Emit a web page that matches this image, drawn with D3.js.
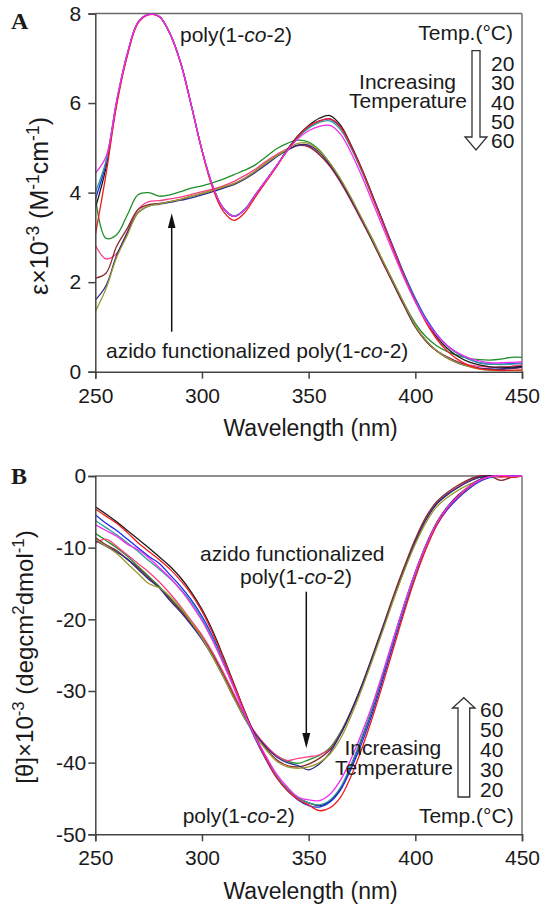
<!DOCTYPE html>
<html><head><meta charset="utf-8">
<script src="https://cdn.jsdelivr.net/npm/d3@7"></script>
<style>
body{margin:0;background:#fff}
svg{display:block}
text{fill:#1a1a1a}
</style>
</head><body>
<svg id="chart" width="546" height="905" font-family='"Liberation Sans",Arial,sans-serif'></svg>
<script>
// ---------- DATA ----------
const wavelengths = [250,255,260,265,270,275,280,285,290,295,300,305,310,315,320,325,330,335,340,345,350,355,360,365,370,375,380,385,390,395,400,405,410,415,420,425,430,435,440,445,450];
const xTicks = [250,300,350,400,450];
const yTicksA = [0,2,4,6,8];
const yTicksB = [-50,-40,-30,-20,-10,0];
const tempLabels = ["20","30","40","50","60"];

// Panel A: UV-vis, epsilon x 10^-3
const uvPolyBlack   = [3.65,4.55,6.0,7.08,7.8,7.98,7.93,7.55,6.9,5.95,4.95,4.15,3.65,3.47,3.62,3.95,4.27,4.6,4.96,5.27,5.5,5.66,5.72,5.5,5.05,4.52,3.93,3.32,2.72,2.13,1.6,1.14,0.78,0.52,0.34,0.22,0.15,0.11,0.1,0.1,0.12];
const uvPolyBlue    = [3.85,4.65,6.02,7.1,7.8,7.98,7.93,7.55,6.9,5.95,4.95,4.15,3.65,3.47,3.62,3.95,4.27,4.6,4.95,5.25,5.47,5.6,5.64,5.45,5.02,4.5,3.92,3.33,2.74,2.16,1.64,1.19,0.84,0.58,0.4,0.28,0.2,0.17,0.17,0.18,0.19];
const uvPolyTeal    = [4.0,4.7,6.05,7.1,7.8,7.98,7.93,7.55,6.9,5.95,4.95,4.15,3.65,3.48,3.63,3.95,4.27,4.6,4.94,5.23,5.44,5.57,5.6,5.4,4.98,4.46,3.88,3.29,2.7,2.12,1.6,1.16,0.82,0.57,0.4,0.28,0.2,0.17,0.16,0.17,0.18];
const uvPolyMagenta = [4.43,4.8,6.05,7.1,7.8,7.98,7.93,7.55,6.9,5.95,4.95,4.15,3.65,3.47,3.62,3.95,4.27,4.6,4.93,5.2,5.38,5.48,5.5,5.3,4.88,4.36,3.78,3.2,2.62,2.06,1.56,1.14,0.82,0.58,0.42,0.31,0.24,0.2,0.2,0.21,0.22];
const uvPolyRed     = [3.05,4.4,5.95,7.05,7.78,7.97,7.93,7.55,6.9,5.95,4.93,4.1,3.58,3.38,3.55,3.9,4.24,4.58,4.94,5.25,5.48,5.6,5.65,5.46,5.02,4.5,3.9,3.3,2.7,2.1,1.57,1.1,0.73,0.46,0.27,0.14,0.07,0.04,0.03,0.03,0.04];
const uvAzidoGreen  = [3.91,2.98,3.06,3.5,3.95,4.0,3.92,3.95,4.02,4.1,4.15,4.22,4.3,4.4,4.5,4.62,4.8,4.98,5.1,5.17,5.13,4.95,4.65,4.28,3.85,3.4,2.95,2.45,1.98,1.5,1.08,0.78,0.58,0.45,0.36,0.3,0.27,0.26,0.28,0.32,0.32];
const uvAzidoPink   = [2.83,2.52,2.64,3.12,3.62,3.8,3.82,3.86,3.9,3.96,4.02,4.08,4.15,4.25,4.38,4.52,4.7,4.85,4.98,5.06,5.04,4.85,4.58,4.22,3.8,3.35,2.9,2.4,1.93,1.45,1.0,0.68,0.47,0.33,0.22,0.15,0.12,0.1,0.1,0.12,0.15];
const uvAzidoBrown  = [2.09,2.2,2.8,3.2,3.62,3.73,3.76,3.8,3.85,3.92,3.98,4.05,4.12,4.2,4.32,4.48,4.66,4.82,4.95,5.05,5.02,4.85,4.6,4.24,3.82,3.37,2.9,2.42,1.93,1.45,1.0,0.68,0.46,0.3,0.19,0.12,0.07,0.05,0.05,0.07,0.1];
const uvAzidoNavy   = [1.6,1.92,2.6,3.1,3.55,3.7,3.74,3.78,3.83,3.88,3.95,4.02,4.1,4.18,4.3,4.45,4.62,4.8,4.95,5.06,5.06,4.9,4.62,4.26,3.84,3.39,2.92,2.44,1.96,1.48,1.02,0.7,0.47,0.32,0.21,0.13,0.08,0.06,0.06,0.08,0.1];
const uvAzidoOlive  = [1.34,1.85,2.55,3.05,3.55,3.7,3.75,3.8,3.85,3.92,3.98,4.05,4.13,4.2,4.32,4.48,4.66,4.82,4.97,5.1,5.1,4.93,4.66,4.3,3.88,3.42,2.95,2.46,1.98,1.5,1.03,0.7,0.47,0.31,0.2,0.12,0.06,0.03,0.02,0.03,0.02];

// Panel B: CD, [theta] x 10^-3
const cdPolyBlack   = [-4.3,-5.3,-6.4,-7.6,-8.8,-10.0,-11.3,-12.6,-14.2,-16.2,-18.6,-21.6,-25.2,-29.0,-32.8,-36.3,-39.3,-41.9,-43.7,-44.9,-45.6,-46.0,-45.4,-43.6,-40.4,-36.6,-32.4,-27.6,-22.6,-17.8,-13.4,-9.6,-6.5,-4.3,-2.7,-1.5,-0.5,0,0,0,0];
const cdPolyRed     = [-4.6,-5.6,-6.6,-7.9,-9.3,-10.5,-11.7,-13.0,-14.6,-16.5,-18.9,-21.9,-25.4,-29.1,-32.9,-36.5,-39.5,-42.1,-43.9,-45.1,-45.9,-46.7,-46.3,-44.8,-41.8,-38.0,-33.6,-28.8,-23.8,-18.8,-14.2,-10.2,-6.9,-4.5,-2.9,-1.6,-0.6,-0.1,0,-0.2,0];
const cdPolyBlue    = [-5.4,-6.6,-7.6,-8.8,-10.0,-11.2,-12.2,-13.8,-15.4,-17.3,-19.6,-22.4,-25.8,-29.4,-33.2,-36.7,-39.6,-42.1,-43.9,-45.2,-46.0,-46.2,-45.5,-43.8,-40.8,-37.2,-33.0,-28.2,-23.2,-18.4,-14.0,-10.0,-6.9,-4.7,-3.1,-1.8,-0.8,-0.2,0,0,0];
const cdPolyTeal    = [-6.2,-7.2,-8.2,-9.3,-10.5,-11.8,-13.0,-14.3,-15.8,-17.6,-19.9,-22.7,-26.0,-29.5,-33.2,-36.6,-39.4,-41.9,-43.7,-44.9,-45.6,-45.9,-45.2,-43.4,-40.2,-36.4,-32.2,-27.4,-22.6,-17.9,-13.6,-9.8,-6.7,-4.4,-2.9,-1.6,-0.6,-0.1,0,-0.1,0];
const cdPolyMagenta = [-6.8,-7.6,-8.4,-9.5,-10.3,-11.4,-12.8,-14.2,-15.9,-17.9,-20.2,-23.0,-26.2,-29.6,-33.2,-36.4,-39.1,-41.6,-43.4,-44.8,-45.2,-45.3,-44.4,-42.4,-39.4,-35.8,-31.8,-27.2,-22.4,-17.7,-13.4,-9.7,-6.6,-4.4,-2.8,-1.5,-0.6,-0.1,0.1,0,0];
const cdAzidoGreen  = [-8.0,-9.0,-10.0,-11.2,-12.6,-14.0,-15.4,-17.0,-18.6,-20.4,-22.4,-24.8,-27.6,-30.6,-33.6,-36.0,-37.8,-39.0,-39.8,-40.1,-39.6,-39.0,-37.9,-35.7,-32.7,-29.2,-25.2,-21.0,-16.8,-12.8,-9.0,-6.0,-3.9,-2.6,-1.6,-0.7,-0.2,0,0,0,0];
const cdAzidoPink   = [-9.4,-8.8,-9.8,-11.0,-12.2,-13.4,-14.8,-16.4,-18.2,-20.2,-22.2,-24.6,-27.4,-30.4,-33.4,-35.8,-37.6,-39.0,-39.7,-39.4,-39.2,-38.9,-38.1,-35.9,-32.9,-29.4,-25.4,-21.2,-16.9,-12.9,-9.2,-6.1,-3.8,-2.5,-1.5,-0.6,0,0,-0.2,0,0];
const cdAzidoBrown  = [-8.6,-9.6,-10.4,-11.6,-12.8,-14.2,-15.6,-17.2,-18.8,-20.6,-22.6,-25.0,-27.8,-30.8,-33.8,-36.2,-38.0,-39.6,-40.4,-40.6,-40.2,-39.4,-38.2,-36.0,-32.8,-29.1,-25.0,-20.8,-16.5,-12.5,-8.8,-5.7,-3.6,-2.3,-1.3,-0.5,0,0,-0.6,-0.2,0];
const cdAzidoNavy   = [-9.0,-9.8,-10.6,-11.6,-13.0,-14.4,-15.6,-17.4,-19.0,-20.8,-22.8,-25.2,-28.0,-31.0,-33.8,-36.0,-37.8,-39.2,-40.0,-40.4,-41.0,-40.2,-38.6,-36.0,-32.8,-29.2,-25.2,-21.0,-16.9,-12.9,-9.2,-6.1,-3.9,-2.6,-1.6,-0.8,-0.2,0,0,0,0];
const cdAzidoOlive  = [-8.8,-9.8,-10.8,-12.2,-13.6,-15.0,-15.6,-16.8,-18.4,-20.4,-22.6,-25.2,-28.0,-31.0,-33.8,-36.2,-38.2,-39.8,-40.6,-40.8,-40.6,-40.0,-38.8,-36.6,-33.4,-29.7,-25.6,-21.4,-17.1,-13.1,-9.5,-6.5,-4.3,-3.0,-2.0,-1.2,-0.6,-0.2,0,0,0];

const seriesColors = {black:"#1a1a1a", blue:"#1f2cf0", teal:"#2f9c9c", magenta:"#f22cf2", red:"#f01c1c",
  green:"#1e8f2a", pink:"#ff3b86", brown:"#8a2a2a", navy:"#2a2a8a", olive:"#9c9a2e"};

const seriesA = [
  ["green",uvAzidoGreen],["pink",uvAzidoPink],["brown",uvAzidoBrown],["navy",uvAzidoNavy],["olive",uvAzidoOlive],
  ["black",uvPolyBlack],["blue",uvPolyBlue],["teal",uvPolyTeal],["red",uvPolyRed],["magenta",uvPolyMagenta]];
const seriesB = [
  ["green",cdAzidoGreen],["pink",cdAzidoPink],["brown",cdAzidoBrown],["navy",cdAzidoNavy],["olive",cdAzidoOlive],
  ["black",cdPolyBlack],["blue",cdPolyBlue],["teal",cdPolyTeal],["red",cdPolyRed],["magenta",cdPolyMagenta]];

// ---------- LAYOUT ----------
const SANS = '"Liberation Sans",Arial,sans-serif';
const SERIF = '"Liberation Serif","Times New Roman",serif';
const svg = d3.select("#chart");
const X0 = 95.3, X1 = 522;
const x = d3.scaleLinear().domain([250,450]).range([X0,X1]);
const yA = d3.scaleLinear().domain([0,8]).range([371.7,13.5]);
const yB = d3.scaleLinear().domain([-50,0]).range([834.3,476]);

const defs = svg.append("defs");
defs.append("clipPath").attr("id","clipA").append("rect")
  .attr("x",X0).attr("y",yA(8)-1).attr("width",X1-X0).attr("height",yA(0)-yA(8)+1);
defs.append("clipPath").attr("id","clipB").append("rect")
  .attr("x",X0).attr("y",yB(0)-1).attr("width",X1-X0).attr("height",yB(-50)-yB(0)+1);

function panel(y, yTicks, series, clipId, yPad){
  const g = svg.append("g");
  g.append("line").attr("x1",X0).attr("x2",X1).attr("y1",y.range()[1]).attr("y2",y.range()[1])
    .attr("stroke","#6a6a6a").attr("stroke-width",1.4);
  g.append("line").attr("x1",X1).attr("x2",X1).attr("y1",y.range()[1]).attr("y2",y.range()[0])
    .attr("stroke","#6a6a6a").attr("stroke-width",1.4);
  const line = d3.line().x((d,i)=>x(wavelengths[i])).y(d=>y(d)).curve(d3.curveCatmullRom.alpha(0.5));
  const lg = g.append("g").attr("clip-path",`url(#${clipId})`);
  series.forEach(([c,vals])=>{
    lg.append("path").attr("d",line(vals)).attr("fill","none")
      .attr("stroke",seriesColors[c]).attr("stroke-width",1.3).attr("stroke-linejoin","round");
  });
  const ax = g.append("g").attr("transform",`translate(0,${y.range()[0]})`)
    .call(d3.axisBottom(x).tickValues(xTicks).tickSize(7).tickPadding(9).tickFormat(d=>String(d)));
  const ay = g.append("g").attr("transform",`translate(${X0},0)`)
    .call(d3.axisLeft(y).tickValues(yTicks).tickSize(7).tickPadding(yPad).tickFormat(d=>String(d)));
  [ax,ay].forEach(a=>{
    a.attr("font-family",SANS).attr("font-size",21);
    a.select(".domain").attr("stroke","#444").attr("stroke-width",1.5);
    a.selectAll(".tick line").attr("stroke","#444").attr("stroke-width",1.5);
    a.selectAll(".tick text").attr("fill","#1a1a1a");
  });
  return g;
}

const gA = panel(yA, yTicksA, seriesA, "clipA", 7);
const gB = panel(yB, yTicksB, seriesB, "clipB", 2);

// ---------- TEXT ----------
function txt(g, xx, yy, opts={}){
  const t = g.append("text").attr("x",xx).attr("y",yy).attr("font-size",opts.size||21)
    .attr("text-anchor",opts.anchor||"start").style("font-family",opts.family||SANS);
  if(opts.weight) t.attr("font-weight",opts.weight);
  return t;
}
function polyText(t, prefix){
  t.append("tspan").text((prefix||"")+"poly(1-");
  t.append("tspan").attr("font-style","italic").text("co");
  t.append("tspan").text("-2)");
  return t;
}

// panel letters
txt(svg, 11, 29, {size:24, weight:"bold", family:SERIF}).text("A");
txt(svg, 11, 484, {size:24, weight:"bold", family:SERIF}).text("B");

// x titles
txt(gA, (X0+X1)/2+2, 436, {size:23, anchor:"middle"}).text("Wavelength (nm)");
txt(gB, (X0+X1)/2+2, 899, {size:23, anchor:"middle"}).text("Wavelength (nm)");

// y titles
{
  const t = gA.append("text").attr("transform","translate(48,206) rotate(-90)")
    .attr("text-anchor","middle").attr("font-size",25).style("font-family",SANS);
  t.append("tspan").text("ε×10");
  t.append("tspan").attr("font-size","70%").attr("dy",-9).text("-3");
  t.append("tspan").attr("dy",9).text(" (M");
  t.append("tspan").attr("font-size","70%").attr("dy",-9).text("-1");
  t.append("tspan").attr("dy",9).text("cm");
  t.append("tspan").attr("font-size","70%").attr("dy",-9).text("-1");
  t.append("tspan").attr("dy",9).text(")");
}
{
  const t = gB.append("text").attr("transform","translate(33,657) rotate(-90)")
    .attr("text-anchor","middle").attr("font-size",24).style("font-family",SANS);
  t.append("tspan").text("[θ]×10");
  t.append("tspan").attr("font-size","70%").attr("dy",-9).text("-3");
  t.append("tspan").attr("dy",9).text(" (degcm");
  t.append("tspan").attr("font-size","70%").attr("dy",-9).text("2");
  t.append("tspan").attr("dy",9).text("dmol");
  t.append("tspan").attr("font-size","70%").attr("dy",-9).text("-1");
  t.append("tspan").attr("dy",9).text(")");
}

// Panel A annotations
polyText(txt(gA, 180, 42));
polyText(txt(gA, 106, 358), "azido functionalized ");
txt(gA, 513, 40, {anchor:"end"}).text("Temp.(°C)");
txt(gA, 456, 89, {anchor:"end"}).text("Increasing");
txt(gA, 467, 108, {anchor:"end"}).text("Temperature");
tempLabels.forEach((s,i)=>txt(gA, 491, 71+i*19.3).text(s));
gA.append("path").attr("d","M472,50.7 L480,50.7 L480,137 L487,137 L476,150 L465,137 L472,137 Z")
  .attr("fill","#fff").attr("stroke","#333").attr("stroke-width",1.3);
gA.append("line").attr("x1",171.7).attr("x2",171.7).attr("y1",331.7).attr("y2",226)
  .attr("stroke","#111").attr("stroke-width",1.5);
gA.append("path").attr("d","M171.7,213.3 L175.5,228 L167.9,228 Z").attr("fill","#111");

// Panel B annotations
txt(gB, 292.3, 561, {anchor:"middle"}).text("azido functionalized");
polyText(txt(gB, 296, 584, {anchor:"middle"}));
gB.append("line").attr("x1",306.3).attr("x2",306.3).attr("y1",591.7).attr("y2",735)
  .attr("stroke","#111").attr("stroke-width",1.5);
gB.append("path").attr("d","M306.3,748.3 L310.3,733 L302.3,733 Z").attr("fill","#111");
polyText(txt(gB, 182.7, 823));
txt(gB, 441.3, 755, {anchor:"end"}).text("Increasing");
txt(gB, 453, 775, {anchor:"end"}).text("Temperature");
tempLabels.slice().reverse().forEach((s,i)=>txt(gB, 480, 717+i*20).text(s));
txt(gB, 513.7, 823, {anchor:"end"}).text("Temp.(°C)");
gB.append("path").attr("d","M458,797 L469.7,797 L469.7,708 L475,708 L463.8,697.7 L452.5,708 L458,708 Z")
  .attr("fill","#fff").attr("stroke","#333").attr("stroke-width",1.3);
</script>
</body></html>
